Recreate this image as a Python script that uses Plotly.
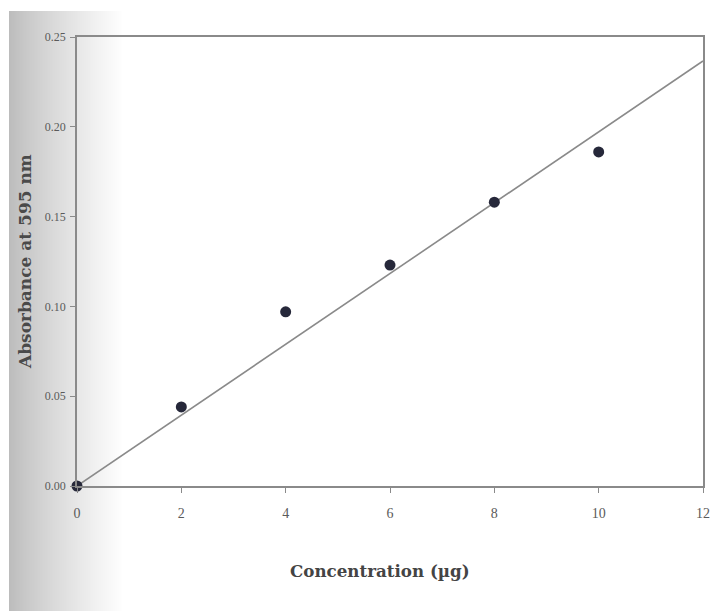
import numpy as np
import plotly.graph_objects as go

# Standard curve data (Bradford assay)
concentration = [0, 2, 4, 6, 8, 10]
absorbance = [0.000, 0.044, 0.097, 0.123, 0.158, 0.186]

x_ticks = [0, 2, 4, 6, 8, 10, 12]
y_ticks = [0.00, 0.05, 0.10, 0.15, 0.20, 0.25]

# Least-squares line through the origin
x_arr = np.array(concentration, dtype=float)
y_arr = np.array(absorbance, dtype=float)
slope = float((x_arr * y_arr).sum() / (x_arr ** 2).sum())
fit_x = [0, 12]
fit_y = [slope * v for v in fit_x]

W, H = 714, 611
ML, MR, MT, MB = 77, 11, 37, 125
PW, PH = W - ML - MR, H - MT - MB

SERIF = "Liberation Serif, Times New Roman, serif"
WIDE_SERIF = "DejaVu Serif, serif"


def px_to_paper_x(px):
    return (px - ML) / PW


def px_to_paper_y(py):
    return (H - MB - py) / PH


fig = go.Figure()

fig.add_trace(go.Scatter(
    x=fit_x, y=fit_y, mode="lines",
    line=dict(color="#8a8a8a", width=1.6),
    hoverinfo="skip", showlegend=False,
))
fig.add_trace(go.Scatter(
    x=concentration, y=absorbance, mode="markers",
    marker=dict(color="#26283a", size=11),
    cliponaxis=False, showlegend=False,
))

# Grey shading along the left margin of the page
shapes = []
x0_px, x1_px = 9, 122
for p in range(x0_px, x1_px):
    t = (p - x0_px) / (x1_px - x0_px)
    g = int(188 + (255 - 188) * (t ** 0.85))
    shapes.append(dict(
        type="rect", xref="paper", yref="paper", layer="below",
        x0=px_to_paper_x(p), x1=px_to_paper_x(p + 1.05),
        y0=px_to_paper_y(H), y1=px_to_paper_y(11),
        fillcolor=f"rgb({g},{g},{g})", line=dict(width=0),
    ))

fig.update_layout(
    width=W, height=H,
    margin=dict(l=ML, r=MR, t=MT, b=MB, autoexpand=False),
    paper_bgcolor="white",
    plot_bgcolor="rgba(0,0,0,0)",
    shapes=shapes,
    font=dict(family=SERIF, color="#555555"),
    xaxis=dict(
        range=[0, 12], tickvals=x_ticks, ticktext=[str(v) for v in x_ticks],
        showgrid=False, zeroline=False, automargin=False,
        showline=True, linecolor="#8a8a8a", linewidth=1.5, mirror=True,
        ticks="outside", ticklen=5, tickcolor="#8a8a8a",
        tickfont=dict(family=SERIF, size=14, color="#5a5a5a"),
        ticklabelstandoff=8,
    ),
    yaxis=dict(
        range=[0, 0.25], tickvals=y_ticks,
        ticktext=[f"{v:.2f}" for v in y_ticks],
        showgrid=False, zeroline=False, automargin=False,
        showline=True, linecolor="#8a8a8a", linewidth=1.5, mirror=True,
        ticks="outside", ticklen=5, tickcolor="#8a8a8a",
        tickfont=dict(family=SERIF, size=12, color="#5a5a5a"),
        ticklabelstandoff=2,
    ),
    annotations=[
        dict(
            text="<b>Concentration (µg)</b>", xref="paper", yref="paper",
            x=px_to_paper_x(380), y=px_to_paper_y(571),
            xanchor="center", yanchor="middle", showarrow=False,
            font=dict(family=WIDE_SERIF, size=16.7, color="#444444"),
        ),
        dict(
            text="<b>Absorbance at 595 nm</b>", xref="paper", yref="paper",
            x=px_to_paper_x(25), y=px_to_paper_y(262),
            xanchor="center", yanchor="middle", showarrow=False, textangle=-90,
            font=dict(family=WIDE_SERIF, size=17, color="#4a4a4a"),
        ),
    ],
)

fig.write_html("out.html")
